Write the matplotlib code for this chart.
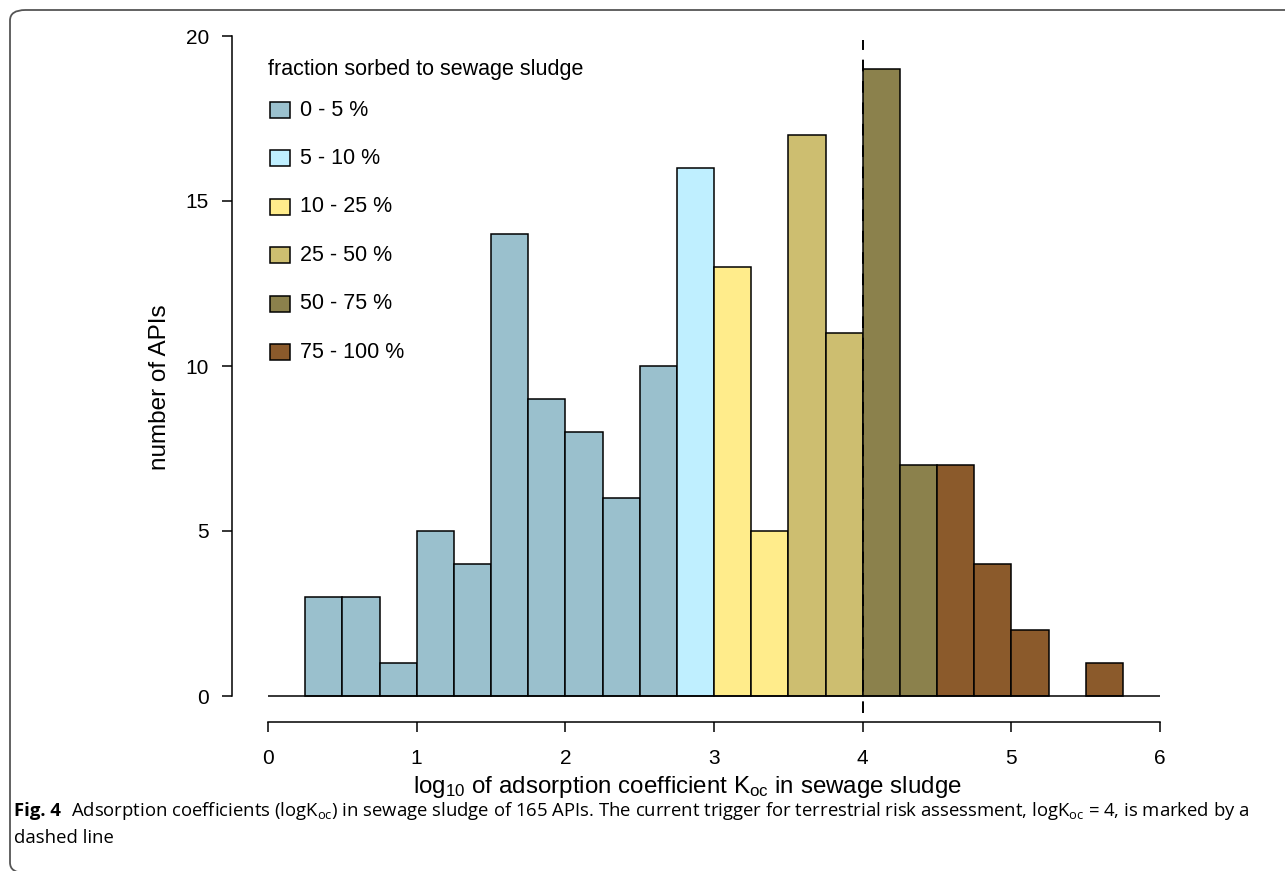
import numpy as np
import matplotlib
matplotlib.use("Agg")
import matplotlib.pyplot as plt
from matplotlib.patches import Rectangle, FancyBboxPatch

plt.rcParams["font.family"] = ["Liberation Sans", "DejaVu Sans"]
plt.rcParams["mathtext.default"] = "regular"

# histogram of log10 Koc, bin width 0.25
bin_left = [0.25, 0.5, 0.75, 1.0, 1.25, 1.5, 1.75, 2.0, 2.25, 2.5, 2.75,
            3.0, 3.25, 3.5, 3.75, 4.0, 4.25, 4.5, 4.75, 5.0, 5.25, 5.5]
counts = [3, 3, 1, 5, 4, 14, 9, 8, 6, 10, 16,
          13, 5, 17, 11, 19, 7, 7, 4, 2, 0, 1]
# sorption class of each bin (index into classes)
bin_class = [0, 0, 0, 0, 0, 0, 0, 0, 0, 0, 1,
             2, 2, 3, 3, 4, 4, 5, 5, 5, 5, 5]

classes = ["0 - 5 %", "5 - 10 %", "10 - 25 %", "25 - 50 %", "50 - 75 %", "75 - 100 %"]
class_colors = ["#9AC0CD", "#BFEFFF", "#FFEC8B", "#CDBE70", "#8B814C", "#8B5A2B"]

trigger = 4
bin_width = 0.25

W, H = 1285, 871
fig = plt.figure(figsize=(W / 100, H / 100), dpi=100)


def fx(px):
    return px / W


def fy(py):
    return 1 - py / H


# axes box in pixels: left 232, right 1180, top 36, bottom 722
ax = fig.add_axes([fx(232), fy(722), fx(1180 - 232), (722 - 36) / H])
ax.set_xlim(-0.2421, 6.134)
ax.set_ylim(-26 / 33, 20)

lw = 1.1
for x0, n, c in zip(bin_left, counts, bin_class):
    if n == 0:
        continue
    ax.bar(x0, n, width=bin_width, align="edge", color=class_colors[c],
           edgecolor="black", linewidth=lw, zorder=2)
ax.hlines(0, 0, 6, color="black", linewidth=lw, zorder=3)

ax.plot([trigger, trigger], [-0.515, 19.88], color="black", linewidth=1.4,
        linestyle=(0, (6, 5)), clip_on=False, zorder=4)

for s in ["top", "right"]:
    ax.spines[s].set_visible(False)
ax.spines["left"].set_bounds(0, 20)
ax.spines["bottom"].set_bounds(0, 6)
for s in ["left", "bottom"]:
    ax.spines[s].set_linewidth(lw)
ax.set_yticks([0, 5, 10, 15, 20])
ax.set_xticks([0, 1, 2, 3, 4, 5, 6])
ax.tick_params(axis="both", length=7.5, width=lw, labelsize=15, pad=9)
ax.tick_params(axis="x", pad=12)

fig.text(fx(160), fy(387), "number of APIs", rotation=90, fontsize=17.5,
         ha="center", va="center")
fig.text(fx(687), fy(787), "log$_{10}$ of adsorption coefficient K$_{oc}$ in sewage sludge",
         fontsize=17.4, ha="center", va="center")

# legend
fig.text(fx(268), fy(69), "fraction sorbed to sewage sludge", fontsize=15.5,
         ha="left", va="center")
for i, (lab, col) in enumerate(zip(classes, class_colors)):
    yc = 110 + 48.4 * i
    fig.patches.append(Rectangle((fx(270), fy(yc + 8)), fx(20), 16 / H,
                                 transform=fig.transFigure, facecolor=col,
                                 edgecolor="black", linewidth=lw))
    fig.text(fx(300), fy(yc), lab, fontsize=15.5, ha="left", va="center")

# frame around figure and caption
fig.patches.append(FancyBboxPatch((fx(10), fy(873)), fx(1400), 863 / H,
                                  boxstyle="round,pad=0,rounding_size=0.012",
                                  transform=fig.transFigure, facecolor="none",
                                  edgecolor="#555555", linewidth=1.3))

cap_font = ["Open Sans", "DejaVu Sans"]
cap_size = 13.3
t = fig.text(fx(14), fy(816), "Fig. 4", fontsize=cap_size, fontweight="bold",
             family=cap_font, ha="left", va="baseline")
fig.canvas.draw()
bb = t.get_window_extent()
fig.text(bb.x1 / W + fx(10), fy(816),
         "Adsorption coefficients (logK$_{oc}$) in sewage sludge of 165 APIs. The current "
         "trigger for terrestrial risk assessment, logK$_{oc}$ = 4, is marked by a",
         fontsize=cap_size, family=cap_font, ha="left", va="baseline")
fig.text(fx(14), fy(843), "dashed line", fontsize=cap_size, family=cap_font,
         ha="left", va="baseline")

fig.savefig("out.png", dpi=100)
